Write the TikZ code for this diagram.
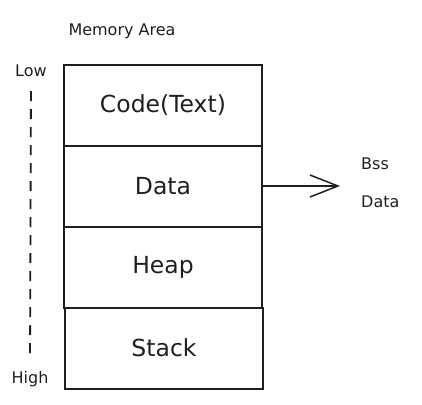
\documentclass[tikz,border=0pt]{standalone}
\usepackage{fontspec}
\setmainfont{DejaVu Sans}
\usetikzlibrary{positioning,arrows.meta}

\begin{document}
\begin{tikzpicture}[
    x=1pt, y=-1pt,
    memblock/.style={
        draw=black!88, line width=2pt,
        minimum width=198pt, minimum height=81pt, inner sep=0pt, outer sep=0pt,
        font=\fontsize{23.5}{26}\selectfont, text=black!88
    },
    smalllabel/.style={
        font=\fontsize{16}{18}\selectfont, text=black!88, inner sep=1pt
    },
    rangeline/.style={
        draw=black!88, line width=1.8pt, dash pattern=on 10pt off 8pt
    },
    arrowstyle/.style={
        -{Straight Barb[length=28pt,width=22pt,line width=1.5pt]},
        draw=black!88, line width=1.5pt
    }
]
\useasboundingbox (0,0) rectangle (422,404);

% Title
\node[smalllabel] (title) at (122,31) {Memory Area};

% Memory segments
\node[memblock] (code)  at (163,105) {Code(Text)};
\node[memblock, below=0pt of code] (data)  {Data};
\node[memblock, below=0pt of data] (heap)  {Heap};
\node[memblock, below=0pt of heap, xshift=1pt] (stack) {Stack};

% Address range
\node[smalllabel] (low)  at (31,71)  {Low};
\node[smalllabel] (high) at (30,379) {High};
\draw[rangeline, shorten <=13pt, shorten >=13pt] (low.south) -- (high.north);

% Data split
\coordinate[right=78pt of data.east] (split);
\draw[arrowstyle] (data.east) -- (split);
\node[smalllabel, anchor=west] (bss)     at (360,164) {Bss};
\node[smalllabel, anchor=west] (initdat) at (360,202) {Data};

\end{tikzpicture}
\end{document}
